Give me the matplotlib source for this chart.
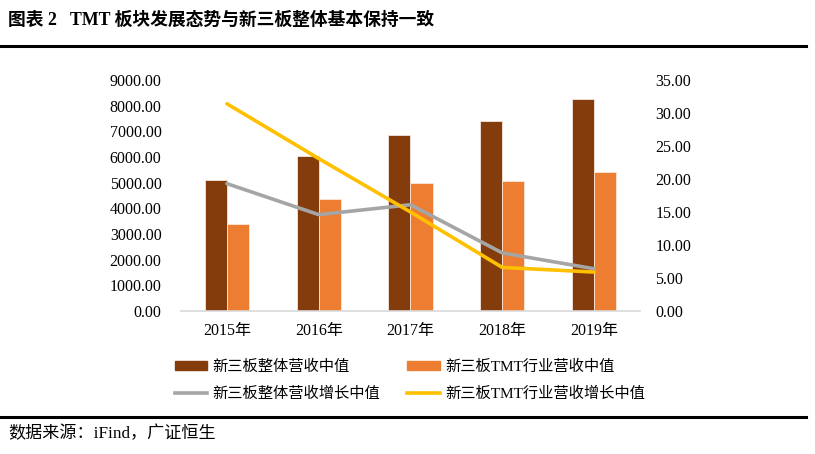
import numpy as np
import matplotlib.pyplot as plt
from matplotlib.lines import Line2D
from matplotlib.patches import Patch

plt.rcParams['font.family'] = ['Liberation Serif', 'Noto Sans CJK SC']

years = ['2015年', '2016年', '2017年', '2018年', '2019年']
total_rev = [5120, 6040, 6850, 7390, 8270]
tmt_rev = [3400, 4350, 4990, 5070, 5420]
total_growth = [19.3, 14.6, 16.1, 8.8, 6.4]
tmt_growth = [31.4, 23.1, 15.0, 6.6, 5.9]

c_dark = '#843C0C'
c_orange = '#ED7D31'
c_gray = '#A5A5A5'
c_yellow = '#FFC000'

W, H = 815, 454
fig = plt.figure(figsize=(W / 100, H / 100), dpi=100)

ax = fig.add_axes([181 / W, 1 - 311 / H, (640 - 181) / W, (311 - 80) / H])
x = np.arange(len(years))
bw = 0.24
ax.bar(x - bw / 2, total_rev, bw, color=c_dark, edgecolor='#f2e6e0', linewidth=0.6, zorder=2)
ax.bar(x + bw / 2, tmt_rev, bw, color=c_orange, edgecolor='#fbe6d8', linewidth=0.6, zorder=2)
ax.set_xlim(-0.5, len(years) - 0.5)
ax.set_ylim(0, 9000)
ax.set_yticks(np.arange(0, 9001, 1000))
ax.set_yticklabels([f'{v:.2f}' for v in np.arange(0, 9001, 1000)])
ax.set_xticks(x)
ax.set_xticklabels(years)
for s in ['top', 'right', 'left']:
    ax.spines[s].set_visible(False)
ax.spines['bottom'].set_color('#d9d9d9')
ax.spines['bottom'].set_linewidth(1.2)
ax.tick_params(length=0, labelsize=11.5, colors='#000000')
ax.tick_params(axis='y', pad=14)
ax.tick_params(axis='x', pad=9)

ax2 = ax.twinx()
ax2.plot(x, total_growth, color=c_gray, lw=2.6, solid_capstyle='round', zorder=3)
ax2.plot(x, tmt_growth, color=c_yellow, lw=2.6, solid_capstyle='round', zorder=4)
ax2.set_ylim(0, 35)
ax2.set_yticks(np.arange(0, 35.1, 5))
ax2.set_yticklabels([f'{v:.2f}' for v in np.arange(0, 35.1, 5)])
for s in ['top', 'right', 'left', 'bottom']:
    ax2.spines[s].set_visible(False)
ax2.tick_params(length=0, labelsize=11.5, pad=11)

# title, rules, source
fig.text(8 / W, 1 - 20 / H, '图表 2   TMT 板块发展态势与新三板整体基本保持一致',
         fontsize=12.8, fontweight='bold', va='center', ha='left',
         family=['Liberation Serif', 'Noto Sans CJK SC'])
fig.add_artist(Line2D([0, 806 / W], [1 - 46 / H] * 2, color='black', lw=2.2))
fig.add_artist(Line2D([0, 806 / W], [1 - 416.5 / H] * 2, color='black', lw=2.2))
fig.text(8 / W, 1 - 434 / H, '数据来源：iFind，广证恒生', fontsize=12.3, va='center', ha='left')

handles = [Patch(color=c_dark), Patch(color=c_orange),
           Line2D([0], [0], color=c_gray, lw=2.6),
           Line2D([0], [0], color=c_yellow, lw=2.6)]
labels = ['新三板整体营收中值', '新三板TMT行业营收中值', '新三板整体营收增长中值', '新三板TMT行业营收增长中值']
fig.legend([handles[0], handles[2], handles[1], handles[3]],
           [labels[0], labels[2], labels[1], labels[3]],
           ncol=2, loc='center left', bbox_to_anchor=(161 / W, 1 - 380 / H),
           frameon=False, fontsize=11, handlelength=2.1, handleheight=0.55,
           columnspacing=1.8, labelspacing=0.85, handletextpad=0.35)

fig.savefig('out.png', dpi=100)
